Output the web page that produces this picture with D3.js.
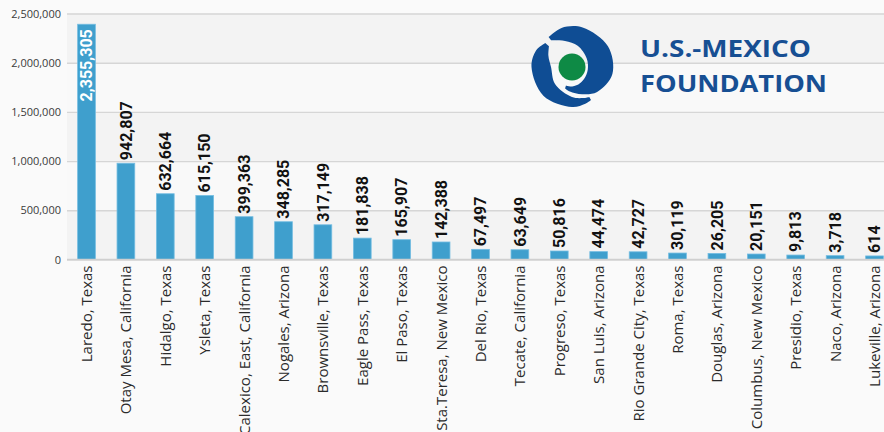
<!DOCTYPE html>
<html>
<head>
<meta charset="utf-8">
<script src="https://cdn.jsdelivr.net/npm/d3@7"></script>
<style>
  body { margin: 0; background: #fafafa; }
  svg { display: block; }
</style>
</head>
<body>
<div id="chart"></div>
<script>
var ports = ["Laredo, Texas", "Otay Mesa, California", "Hidalgo, Texas", "Ysleta, Texas",
  "Calexico, East, California", "Nogales, Arizona", "Brownsville, Texas", "Eagle Pass, Texas",
  "El Paso, Texas", "Sta.Teresa, New Mexico", "Del Rio, Texas", "Tecate, California",
  "Progreso, Texas", "San Luis, Arizona", "Rio Grande City, Texas", "Roma, Texas",
  "Douglas, Arizona", "Columbus, New Mexico", "Presidio, Texas", "Naco, Arizona",
  "Lukeville, Arizona"];
var crossings = [2355305, 942807, 632664, 615150, 399363, 348285, 317149, 181838,
  165907, 142388, 67497, 63649, 50816, 44474, 42727, 30119, 26205, 20151, 9813, 3718, 614];
var yTicks = [0, 500000, 1000000, 1500000, 2000000, 2500000];

var width = 884, height = 432;
var margin = {top: 13, left: 67, bottom: 172};

var svg = d3.select("#chart").append("svg")
    .attr("width", width)
    .attr("height", height);

var x = d3.scaleBand()
    .domain(ports)
    .range([margin.left, 894])
    .paddingInner(0.55)
    .paddingOuter(0.27);

var y = d3.scaleLinear()
    .domain([0, 2500000])
    .range([height - margin.bottom - 0.5, margin.top + 0.5]);

var fmt = d3.format(",");

// striped background between gridlines
svg.append("g").selectAll("rect")
  .data(d3.pairs(yTicks))
  .enter().append("rect")
    .attr("x", margin.left)
    .attr("width", width - margin.left)
    .attr("y", function(d) { return y(d[1]); })
    .attr("height", function(d) { return y(d[0]) - y(d[1]); })
    .attr("fill", function(d, i) { return i % 2 == 0 ? "#f3f3f3" : "#f9f9f9"; });

// gridlines + y labels
var yAxis = svg.append("g")
    .attr("transform", "translate(" + margin.left + ",0)")
    .call(d3.axisLeft(y).tickValues(yTicks).tickFormat(fmt)
      .tickSize(-(width - margin.left)).tickPadding(6));
yAxis.select(".domain").remove();
yAxis.selectAll(".tick line").attr("stroke", "#d6d6d6").attr("stroke-width", 1.4);
yAxis.selectAll(".tick text")
    .attr("fill", "#3a3a3a")
    .style("font-family", "'Open Sans', sans-serif")
    .style("font-size", "11px");

// logo: two swirling arms around a green dot
var logo = svg.append("g").attr("transform", "translate(572,67)");
var deg = Math.PI / 180;
var spiral = d3.areaRadial()
    .angle(function(d) { return (d[0] + 90) * deg; })
    .innerRadius(function(d) { return d[2]; })
    .outerRadius(function(d) { return d[1]; })
    .curve(d3.curveCatmullRom);
// [screen angle, outer r, inner r]
var leftArm = [[222, 36, 31], [205, 39.5, 26], [180, 40.5, 21], [135, 40.5, 24], [90, 40, 30], [70, 39, 33], [60, 38, 34.5]];
var rightArm = [[-128, 38, 34], [-105, 40.5, 27], [-75, 41, 22], [-30, 41.5, 17], [10, 41, 16], [45, 35.5, 17], [70, 29, 18.5], [95, 24.5, 19.5], [108, 22.5, 19.5]];
logo.append("path").attr("d", spiral(leftArm)).attr("fill", "#0f4d94");
logo.append("path").attr("d", spiral(rightArm)).attr("fill", "#0f4d94");
logo.append("circle").attr("r", 13.5).attr("fill", "#0e8a45");

svg.append("text")
    .attr("x", 640).attr("y", 57)
    .attr("textLength", 171).attr("lengthAdjust", "spacingAndGlyphs")
    .attr("fill", "#174f93")
    .style("font-family", "'Open Sans', sans-serif")
    .style("font-weight", 700).style("font-size", "24px")
    .text("U.S.-MEXICO");
svg.append("text")
    .attr("x", 640).attr("y", 92)
    .attr("textLength", 187).attr("lengthAdjust", "spacingAndGlyphs")
    .attr("fill", "#174f93")
    .style("font-family", "'Open Sans', sans-serif")
    .style("font-weight", 700).style("font-size", "24px")
    .text("FOUNDATION");

// bars
var lift = 3.5;
svg.append("g").selectAll("rect")
  .data(crossings)
  .enter().append("rect")
    .attr("x", function(d, i) { return x(ports[i]); })
    .attr("width", x.bandwidth())
    .attr("y", function(d) { return y(d) - lift; })
    .attr("height", function(d) { return y(0) - y(d) + lift; })
    .attr("fill", "#3f9fcd")
    .attr("stroke", "#74bde2")
    .attr("stroke-width", 0.8);

// baseline
svg.append("line")
    .attr("x1", margin.left).attr("x2", width)
    .attr("y1", y(0)).attr("y2", y(0))
    .attr("stroke", "#cfcfcf").attr("stroke-width", 1.5);

// value labels
svg.append("g").selectAll("text")
  .data(crossings)
  .enter().append("text")
    .attr("transform", function(d, i) {
      var cx = x(ports[i]) + x.bandwidth() / 2;
      var top = y(d) - lift;
      var ty = i == 0 ? top + 5 : top - 3;
      return "translate(" + cx + "," + ty + ") rotate(-90)";
    })
    .attr("dy", "0.36em")
    .attr("text-anchor", function(d, i) { return i == 0 ? "end" : "start"; })
    .attr("fill", function(d, i) { return i == 0 ? "#ffffff" : "#111111"; })
    .style("font-family", "Roboto, sans-serif")
    .style("font-weight", 700)
    .style("font-size", "16px")
    .text(function(d) { return fmt(d); });

// category labels
svg.append("g").selectAll("text")
  .data(ports)
  .enter().append("text")
    .attr("transform", function(d) {
      return "translate(" + (x(d) + x.bandwidth() / 2) + "," + (y(0) + 6) + ") rotate(-90)";
    })
    .attr("dy", "0.36em")
    .attr("text-anchor", "end")
    .attr("fill", "#2a2a2a")
    .style("font-family", "'Open Sans', sans-serif")
    .style("font-size", "15px")
    .text(function(d) { return d; });
</script>
</body>
</html>
